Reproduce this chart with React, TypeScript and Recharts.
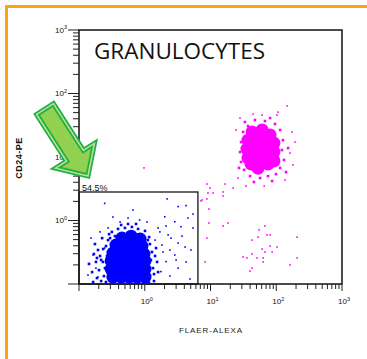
import React from 'react';
import { ScatterChart, Scatter, XAxis, YAxis, ReferenceArea } from 'recharts';

// channel units: 0..1024 covers 4 log decades (10^-1 .. 10^3), 256 channels per decade
const decades = [-1, 0, 1, 2, 3];
const minorSteps = [2, 3, 4, 5, 6, 7, 8, 9];

// dense centre of the lymphocyte (blue) population
const blueCore: [number, number][] = [
  [167, 185], [203, 193], [238, 181],
  [144, 157], [175, 161], [210, 157], [245, 153],
  [132, 125], [164, 129], [195, 125], [226, 125], [253, 121],
  [125, 93], [160, 93], [191, 97], [222, 93], [257, 93],
  [125, 60], [160, 60], [191, 60], [222, 64], [257, 60],
  [132, 28], [164, 28], [195, 28], [226, 28], [257, 28],
];

const blueEdge: [number, number][] = [
  [62, 161], [74, 137], [82, 113], [93, 89], [66, 89], [78, 56], [97, 32], [51, 48], [86, 12],
  [105, 153], [109, 113], [101, 64], [58, 121], [70, 24], [113, 177], [90, 185], [55, 8], [39, 81], [105, 8],
  [128, 210], [152, 222], [179, 226], [206, 230], [230, 222], [257, 214], [140, 193], [273, 189],
  [191, 242], [164, 238], [121, 185], [222, 242],
  [276, 161], [284, 129], [280, 97], [288, 64], [276, 36], [292, 12], [300, 145], [304, 89], [273, 4], [308, 48],
  [86, 97], [70, 105], [94, 141], [117, 201], [268, 177], [296, 113], [292, 40],
];

const blueSparse: [number, number][] = [
  [100, 325], [343, 343], [386, 312], [417, 316], [444, 282], [424, 266], [210, 298], [132, 270],
  [236, 258], [334, 271], [373, 251], [397, 231], [444, 226], [308, 226], [347, 198], [358, 185],
  [386, 165], [413, 149], [327, 129], [373, 117], [436, 137], [339, 90], [386, 64], [319, 50],
  [47, 185], [55, 117], [66, 64], [74, 28], [35, 36], [100, 145], [315, 210], [296, 177],
  [323, 157], [354, 137], [265, 250], [191, 266], [160, 250], [113, 226], [82, 210], [339, 234],
  [401, 193], [378, 97], [417, 89], [354, 32], [432, 20],
];

// granulocytes (magenta)
const magentaCore: [number, number][] = [
  [674, 613], [713, 621], [744, 601],
  [658, 580], [693, 580], [728, 580], [759, 568],
  [654, 544], [689, 544], [724, 544], [759, 532],
  [658, 508], [693, 508], [728, 508], [759, 496],
  [670, 484], [705, 484], [736, 484], [697, 467],
];

const magentaEdge: [number, number][] = [
  [646, 653], [685, 661], [724, 657], [763, 645], [783, 621], [794, 580], [790, 540], [798, 500],
  [783, 468], [767, 443], [736, 435], [705, 427], [666, 435], [643, 460], [631, 492], [627, 532],
  [631, 572], [639, 613], [658, 637], [744, 669], [806, 451], [814, 548], [623, 468], [681, 411], [752, 415],
];

const magentaSparse: [number, number][] = [
  [810, 718], [678, 685], [713, 681], [771, 681], [498, 403], [510, 387], [479, 339], [561, 371],
  [600, 387], [522, 367], [569, 403], [833, 480], [841, 572], [822, 528], [253, 468], [475, 335],
  [502, 367], [561, 355], [498, 343], [506, 302], [506, 246], [561, 234], [580, 246], [498, 185],
  [724, 234], [701, 218], [732, 198], [744, 198], [674, 177], [697, 189], [849, 189], [744, 153],
  [771, 149], [713, 141], [724, 129], [752, 129], [674, 121], [639, 109], [654, 105], [693, 105],
  [717, 105], [717, 89], [849, 105], [822, 77], [491, 89], [674, 64], [666, 52],
  [611, 621], [829, 613], [619, 427], [802, 419], [721, 395], [650, 395], [775, 693], [627, 669],
];

const gateX = 463;
const gateY = 371;
const gateLabel = '54.5%';

const xTitle = 'FLAER-ALEXA';
const yTitle = 'CD24-PE';
const title = 'GRANULOCYTES';

const toPoints = (arr: [number, number][]) => arr.map(([x, y]) => ({ x, y }));

const majorTicks = decades.map(d => (d + 1) * 256);
const allTicks = [
  ...majorTicks,
  ...decades.slice(0, -1).flatMap(d => minorSteps.map(k => (d + 1 + Math.log10(k)) * 256)),
].sort((a, b) => a - b);

const isMajor = (v: number) => majorTicks.some(m => Math.abs(m - v) < 0.01);
const exponentOf = (v: number) => Math.round(v / 256) - 1;

const tickFont = 'Arial, "Liberation Sans", sans-serif';

const YTick = (props: any) => {
  const { x, y, payload } = props;
  const major = isMajor(payload.value);
  const e = exponentOf(payload.value);
  return (
    <g>
      <line x1={x - (major ? 11 : 6)} x2={x} y1={y} y2={y} stroke="#222" strokeWidth={1} />
      {major && e >= 0 && (
        <text x={x - 12} y={y + 2.8} textAnchor="end" fontSize={8} fontFamily={tickFont} fill="#111">
          10<tspan dy={-3.4} fontSize={5.5}>{e}</tspan>
        </text>
      )}
    </g>
  );
};

const XTick = (props: any) => {
  const { x, y, payload } = props;
  const major = isMajor(payload.value);
  const e = exponentOf(payload.value);
  return (
    <g>
      <line x1={x} x2={x} y1={y} y2={y + (major ? 7 : 5)} stroke="#222" strokeWidth={1} />
      {major && e >= 0 && (
        <text x={x + 2} y={y + 20} textAnchor="middle" fontSize={8} fontFamily={tickFont} fill="#111">
          10<tspan dy={-3.4} fontSize={5.5}>{e}</tspan>
        </text>
      )}
    </g>
  );
};

const GateLabel = (props: any) => {
  const vb = props.viewBox;
  if (!vb) return null;
  return (
    <text x={vb.x + 3} y={vb.y - 1.2} fontSize={9} fontFamily={tickFont} fill="#111">
      {gateLabel}
    </text>
  );
};

const bigDot = (color: string) => (p: any) => <circle cx={p.cx} cy={p.cy} r={6.5} fill={color} />;
const midDot = (color: string) => (p: any) => (
  <rect x={p.cx - 1.3} y={p.cy - 1.3} width={2.6} height={2.6} fill={color} />
);
const tinyDot = (color: string) => (p: any) => (
  <rect x={p.cx - 0.8} y={p.cy - 0.8} width={1.6} height={1.6} fill={color} />
);

// arrow outline (annotation)
const arrowPts = '53.4,103.6 83.4,150.4 94.4,143.4 88,176 55.6,168.2 66.6,161.2 36.6,114.4';

export default function App() {
  const blue = '#0000ff';
  const pink = '#ff00ff';
  return (
    <div style={{ position: 'absolute', left: 0, top: 0, width: 367, height: 359, background: '#fff', overflow: 'hidden' }}>
      <div
        style={{
          position: 'absolute',
          left: 5,
          top: 5,
          width: 420,
          height: 420,
          borderTop: '3px solid #ffa30f',
          borderLeft: '3px solid #ffa30f',
        }}
      />
      <div style={{ position: 'absolute', left: 0, top: 0 }}>
        <ScatterChart width={367} height={359} margin={{ top: 30, right: 25, bottom: 45, left: 49 }}>
          <XAxis
            type="number"
            dataKey="x"
            domain={[0, 1024]}
            allowDataOverflow
            ticks={allTicks}
            interval={0}
            tickSize={0}
            tickMargin={0}
            tickLine={false}
            axisLine={false}
            height={30}
            tick={<XTick />}
          />
          <YAxis
            type="number"
            dataKey="y"
            domain={[0, 1024]}
            allowDataOverflow
            ticks={allTicks}
            interval={0}
            tickSize={0}
            tickMargin={0}
            tickLine={false}
            axisLine={false}
            width={30}
            tick={<YTick />}
          />
          <Scatter data={toPoints(blueSparse)} shape={tinyDot(blue)} isAnimationActive={false} />
          <Scatter data={toPoints(blueEdge)} shape={midDot(blue)} isAnimationActive={false} />
          <Scatter data={toPoints(blueCore)} shape={bigDot(blue)} isAnimationActive={false} />
          <Scatter data={toPoints(magentaSparse)} shape={tinyDot(pink)} isAnimationActive={false} />
          <Scatter data={toPoints(magentaEdge)} shape={midDot(pink)} isAnimationActive={false} />
          <Scatter data={toPoints(magentaCore)} shape={bigDot(pink)} isAnimationActive={false} />
          <ReferenceArea
            x1={0}
            x2={gateX}
            y1={0}
            y2={gateY}
            fill="none"
            stroke="#333"
            strokeWidth={1.5}
            ifOverflow="visible"
            label={<GateLabel />}
          />
          <ReferenceArea
            x1={0}
            x2={1024}
            y1={0}
            y2={1024}
            fill="none"
            stroke="#111"
            strokeWidth={1.5}
            ifOverflow="visible"
          />
        </ScatterChart>
      </div>
      <svg width={367} height={359} style={{ position: 'absolute', left: 0, top: 0, pointerEvents: 'none' }}>
        <text x={94} y={59} fontSize={22.5} fontFamily='"Open Sans", sans-serif' fill="#111">
          {title}
        </text>
        <text
          x={19}
          y={158}
          transform="rotate(-90 19 158)"
          textAnchor="middle"
          dominantBaseline="central"
          fontSize={9}
          fontWeight="bold"
          letterSpacing={0.5}
          fontFamily={tickFont}
          fill="#111"
        >
          {yTitle}
        </text>
        <text x={211} y={333} textAnchor="middle" fontSize={8} letterSpacing={0.9} fontFamily={tickFont} fill="#222">
          {xTitle}
        </text>
        <polygon points={arrowPts} fill="#92d050" stroke="#1eae4a" strokeWidth={5} strokeLinejoin="miter" />
        <polygon points={arrowPts} fill="none" stroke="#b9e386" strokeWidth={1.6} strokeLinejoin="miter" />
      </svg>
    </div>
  );
}
